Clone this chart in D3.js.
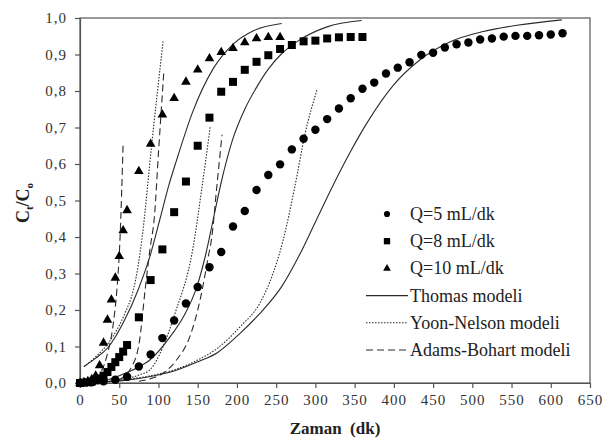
<!DOCTYPE html>
<meta charset="utf-8">
<style>
body { margin: 0; background: #fff; }
svg text { font-family: "Liberation Serif", "Times New Roman", serif; fill: #222; }
.tick text { font-size: 15px; letter-spacing: 1px; fill: #333; font-family: "Liberation Serif", serif; }
.axis path, .axis line { stroke: #555; stroke-width: 1.2px; }
.model { fill: none; stroke: #2a2a2a; stroke-width: 1.1px; }
.legend text { font-size: 18px; }
</style>
<body>
<script src="https://d3js.org/d3.v7.min.js"></script>
<script>
// tick labels
var xTicks = [0, 50, 100, 150, 200, 250, 300, 350, 400, 450, 500, 550, 600, 650];
var yTicks = [0, 0.1, 0.2, 0.3, 0.4, 0.5, 0.6, 0.7, 0.8, 0.9, 1.0];
var yTickLabels = ["0,0", "0,1", "0,2", "0,3", "0,4", "0,5", "0,6", "0,7", "0,8", "0,9", "1,0"];

// measured points, Q=5 mL/dk (circles)
var q5Time = [0, 15, 30, 45, 60, 75, 90, 105, 120, 135, 150, 165, 180, 195, 210, 225, 240, 255, 270, 285,
  300, 315, 330, 345, 360, 375, 390, 405, 420, 435, 450, 465, 480, 495, 510, 525, 540, 555, 570, 585, 600, 615];
var q5Val = [0, 0.002, 0.005, 0.009, 0.017, 0.045, 0.078, 0.123, 0.171, 0.218, 0.263, 0.317, 0.359, 0.429, 0.471,
  0.529, 0.570, 0.599, 0.640, 0.669, 0.694, 0.723, 0.752, 0.780, 0.806, 0.823, 0.848, 0.864, 0.879, 0.899,
  0.905, 0.919, 0.928, 0.933, 0.941, 0.944, 0.949, 0.951, 0.951, 0.953, 0.955, 0.958];

// Q=8 mL/dk (squares)
var q8Time = [0, 5, 10, 15, 20, 25, 30, 35, 40, 45, 50, 55, 60, 75, 90, 105, 120, 135, 150, 165, 180, 195,
  210, 225, 240, 255, 270, 285, 300, 315, 330, 345, 360];
var q8Val = [0, 0.001, 0.002, 0.004, 0.007, 0.012, 0.02, 0.03, 0.044, 0.057, 0.071, 0.086, 0.104, 0.18, 0.282,
  0.366, 0.468, 0.552, 0.65, 0.727, 0.798, 0.825, 0.858, 0.880, 0.898, 0.915, 0.926, 0.936, 0.938, 0.944,
  0.947, 0.948, 0.948];

// Q=10 mL/dk (triangles)
var q10Time = [0, 5, 10, 15, 20, 25, 30, 35, 40, 45, 50, 55, 60, 75, 90, 105, 120, 135, 150, 165, 180, 195,
  210, 225, 240, 255];
var q10Val = [0, 0.002, 0.005, 0.01, 0.02, 0.048, 0.11, 0.173, 0.228, 0.288, 0.347, 0.418, 0.473, 0.58, 0.655,
  0.735, 0.78, 0.825, 0.858, 0.889, 0.906, 0.917, 0.933, 0.944, 0.947, 0.947];

// model curves [time, Ct/Co]
var thomas5 = [[30, 0.003], [60, 0.008], [90, 0.018], [120, 0.033], [150, 0.058], [175, 0.083], [204, 0.136],
  [229, 0.19], [257, 0.264], [280, 0.352], [302, 0.45], [321, 0.535], [345, 0.635], [365, 0.71], [399, 0.815],
  [433, 0.885], [472, 0.935], [514, 0.963], [557, 0.98], [614, 0.995]];
var thomas8 = [[30, 0.005], [50, 0.02], [76, 0.045], [89, 0.063], [115, 0.127], [132, 0.182], [149, 0.264],
  [160, 0.35], [170, 0.45], [180, 0.55], [195, 0.67], [210, 0.75], [225, 0.81], [240, 0.86], [256, 0.9],
  [280, 0.94], [314, 0.975], [359, 0.993]];
var thomas10 = [[5, 0.045], [20, 0.068], [36, 0.098], [57, 0.173], [74, 0.255], [89, 0.346], [102, 0.45],
  [113, 0.54], [123, 0.61], [144, 0.745], [170, 0.862], [195, 0.928], [221, 0.965], [257, 0.985]];

var yoon5 = [[30, 0.004], [60, 0.01], [90, 0.02], [120, 0.036], [150, 0.063], [175, 0.095], [204, 0.154],
  [229, 0.218], [246, 0.30], [259, 0.392], [274, 0.54], [287, 0.684], [302, 0.803]];
var yoon8 = [[40, 0.005], [60, 0.012], [75, 0.022], [89, 0.036], [106, 0.1], [121, 0.19], [144, 0.37],
  [155, 0.529], [166, 0.702]];
var yoon10 = [[5, 0.045], [20, 0.072], [36, 0.109], [57, 0.19], [68, 0.255], [74, 0.32], [79, 0.396],
  [92, 0.666], [106, 0.938]];

var adams5 = [[75, 0.005], [90, 0.012], [106, 0.027], [123, 0.063], [140, 0.127], [153, 0.227], [163.5, 0.346],
  [168, 0.40], [174, 0.53], [181, 0.68]];
var adams8 = [[49, 0.008], [66, 0.045], [76, 0.118], [83, 0.255], [89, 0.364], [95, 0.46], [100, 0.63],
  [107, 0.858]];
var adams10 = [[20, 0.008], [23, 0.017], [34, 0.072], [42.5, 0.164], [47, 0.255], [51, 0.396], [55, 0.66]];

var legendLabels = ["Q=5 mL/dk", "Q=8 mL/dk", "Q=10 mL/dk", "Thomas modeli", "Yoon-Nelson modeli", "Adams-Bohart modeli"];

var W = 609, H = 444;
var x = d3.scaleLinear().domain([0, 650]).range([80, 590]);
var y = d3.scaleLinear().domain([0, 1]).range([383, 18]);

var svg = d3.select("body").append("svg")
    .attr("width", W)
    .attr("height", H);

// frame
svg.append("rect")
    .attr("x", x(0)).attr("y", y(1))
    .attr("width", x(650) - x(0)).attr("height", y(0) - y(1))
    .attr("fill", "none").attr("stroke", "#555").attr("stroke-width", 1.2);

// axes
svg.append("g")
    .attr("class", "axis")
    .attr("transform", "translate(0," + y(0) + ")")
    .call(d3.axisBottom(x).tickValues(xTicks).tickSizeInner(5).tickSizeOuter(0).tickPadding(6)
      .tickFormat(function(d) { return d; }));

svg.append("g")
    .attr("class", "axis")
    .attr("transform", "translate(" + x(0) + ",0)")
    .call(d3.axisLeft(y).tickValues(yTicks).tickSizeInner(5).tickSizeOuter(0).tickPadding(8)
      .tickFormat(function(d, i) { return yTickLabels[i]; }));

// model lines
var line = d3.line()
    .x(function(d) { return x(d[0]); })
    .y(function(d) { return y(d[1]); })
    .curve(d3.curveMonotoneX);

var dotted = "1.5,1.5", dashed = "7,4";

[thomas5, thomas8, thomas10].forEach(function(s) {
  svg.append("path").attr("class", "model").attr("d", line(s));
});
[yoon5, yoon8, yoon10].forEach(function(s) {
  svg.append("path").attr("class", "model").attr("stroke-dasharray", dotted).attr("d", line(s));
});
[adams5, adams8, adams10].forEach(function(s) {
  svg.append("path").attr("class", "model").attr("stroke-dasharray", dashed).attr("d", line(s));
});

// measured points
function pts(t, v) { return t.map(function(d, i) { return [d, v[i]]; }); }

svg.append("g").selectAll("path")
  .data(pts(q5Time, q5Val)).join("path")
    .attr("transform", function(d) { return "translate(" + x(d[0]) + "," + y(d[1]) + ")"; })
    .attr("d", d3.symbol(d3.symbolCircle, 56))
    .attr("fill", "#000");

svg.append("g").selectAll("path")
  .data(pts(q8Time, q8Val)).join("path")
    .attr("transform", function(d) { return "translate(" + x(d[0]) + "," + y(d[1]) + ")"; })
    .attr("d", d3.symbol(d3.symbolSquare, 64))
    .attr("fill", "#000");

svg.append("g").selectAll("path")
  .data(pts(q10Time, q10Val)).join("path")
    .attr("transform", function(d) { return "translate(" + x(d[0]) + "," + y(d[1]) + ")"; })
    .attr("d", d3.symbol(d3.symbolTriangle, 40))
    .attr("fill", "#000");

// legend
var lg = svg.append("g").attr("class", "legend");
var rowY = d3.scaleLinear().domain([0, 5]).range([214, 350]);
var symbols = [[d3.symbolCircle, 30], [d3.symbolSquare, 40], [d3.symbolTriangle, 26]];
symbols.forEach(function(s, i) {
  lg.append("path")
      .attr("transform", "translate(387," + rowY(i) + ")")
      .attr("d", d3.symbol(s[0], s[1]))
      .attr("fill", "#000");
});
[null, dotted, dashed].forEach(function(da, i) {
  lg.append("line")
      .attr("class", "model")
      .attr("x1", 366).attr("x2", 408)
      .attr("y1", rowY(i + 3)).attr("y2", rowY(i + 3))
      .attr("stroke-dasharray", da);
});
legendLabels.forEach(function(t, i) {
  lg.append("text")
      .attr("x", 410).attr("y", rowY(i) + 6)
      .text(t);
});

// axis titles
svg.append("text")
    .attr("x", (x(0) + x(650)) / 2).attr("y", 434)
    .attr("text-anchor", "middle")
    .style("font-size", "17px").style("font-weight", "bold").style("white-space", "pre")
    .text("Zaman  (dk)");

var yt = svg.append("text")
    .attr("transform", "translate(29,203) rotate(-90)")
    .attr("text-anchor", "middle")
    .style("font-size", "18px").style("font-weight", "bold");
yt.append("tspan").text("C");
yt.append("tspan").attr("dy", 4).style("font-size", "11px").text("t");
yt.append("tspan").attr("dy", -4).text("/C");
yt.append("tspan").attr("dy", 4).style("font-size", "11px").text("o");
</script>
</body>
